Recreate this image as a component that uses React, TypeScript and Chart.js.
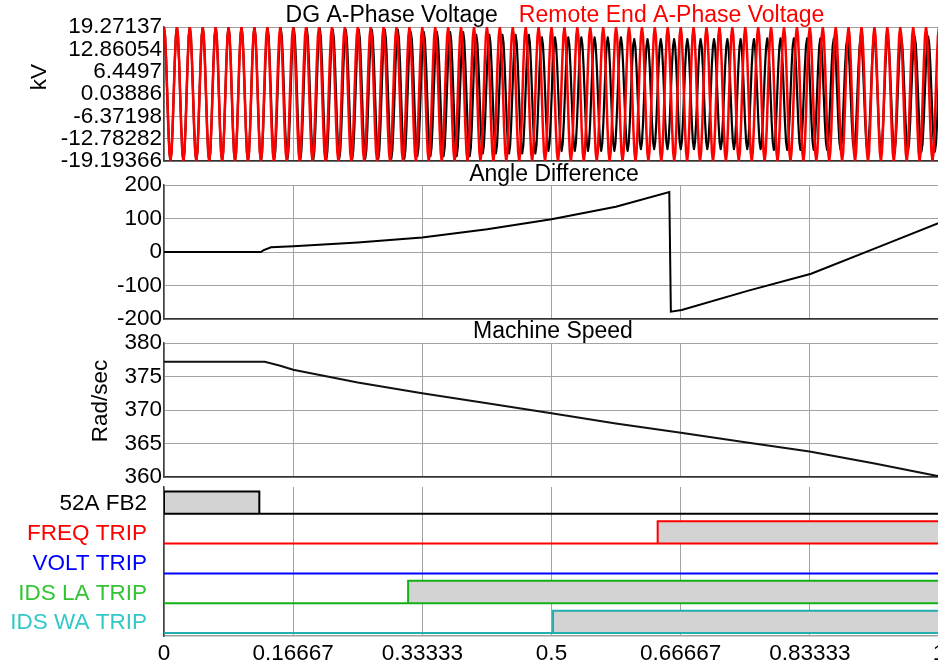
import React, { useEffect, useRef } from 'react';
import { Chart, registerables } from 'chart.js';
Chart.register(...registerables);

const FONT = "'Liberation Sans', Arial, Helvetica, sans-serif";
const W = 960;
const H = 667;
const PLOT_LEFT = 164;
const PLOT_RIGHT = 939;
const TICK_SIZE = 22.5;
const TITLE_SIZE = 23;

// ---------- shared x axis ----------
const xTickValues = [0, 1 / 6, 2 / 6, 0.5, 4 / 6, 5 / 6, 1];
const xTickLabels = ['0', '0.16667', '0.33333', '0.5', '0.66667', '0.83333', '1'];

// ---------- panel 1: voltages ----------
const voltTickValues = [19.27137, 12.86054, 6.4497, 0.03886, -6.37198, -12.78282, -19.19366];
const voltTickLabels = ['19.27137', '12.86054', '6.4497', '0.03886', '-6.37198', '-12.78282', '-19.19366'];
// one normalised cycle, sampled from peak to peak
const cycleShape = [1, 0.866, 0.5, 0, -0.5, -0.866, -1, -0.866, -0.5, 0, 0.5, 0.866];
const remotePeakTimes = [0, 0.0167, 0.0333, 0.05, 0.0667, 0.0833, 0.1, 0.1167, 0.1333, 0.15, 0.1667, 0.1833, 0.2, 0.2167, 0.2333, 0.25, 0.2667, 0.2833, 0.3, 0.3167, 0.3333, 0.35, 0.3667, 0.3833, 0.4, 0.4167, 0.4333, 0.45, 0.4667, 0.4833, 0.5, 0.5167, 0.5333, 0.55, 0.5667, 0.5833, 0.6, 0.6167, 0.6333, 0.65, 0.6667, 0.6833, 0.7, 0.7167, 0.7333, 0.75, 0.7667, 0.7833, 0.8, 0.8167, 0.8333, 0.85, 0.8667, 0.8833, 0.9, 0.9167, 0.9333, 0.95, 0.9667, 0.9833, 1.0];
const remotePeakKv = [19.2];
const dgPeakTimes = [0, 0.0167, 0.0333, 0.05, 0.0667, 0.0833, 0.1, 0.1167, 0.1337, 0.1507, 0.1675, 0.1842, 0.201, 0.2178, 0.2345, 0.2513, 0.2681, 0.2849, 0.3017, 0.3185, 0.3353, 0.3522, 0.3692, 0.386, 0.4029, 0.4198, 0.4367, 0.4537, 0.4707, 0.4876, 0.5045, 0.5216, 0.5385, 0.5556, 0.5726, 0.5896, 0.6068, 0.6239, 0.641, 0.6582, 0.6753, 0.6924, 0.7097, 0.7269, 0.744, 0.7612, 0.7784, 0.7955, 0.8127, 0.8298, 0.8469, 0.8643, 0.8817, 0.899, 0.9164, 0.9338, 0.9511, 0.9686, 0.986, 1.0033];
const dgPeakKv = [19.2, 19.2, 19.2, 19.2, 19.2, 19.2, 19.2, 19.2, 18.9, 18.9, 18.9, 18.9, 18.9, 18.5, 18.5, 18.5, 18.5, 18.5, 18.5, 17.8, 17.8, 17.8, 17.8, 17.8, 17.0, 17.0, 17.0, 17.0, 17.0, 16.3, 16.3, 16.3, 16.3, 16.3, 16.3, 16.3, 15.8, 15.8, 15.8, 15.8, 15.8, 15.8, 15.8, 15.8, 15.8, 15.8, 16.0, 16.0, 16.0, 16.0, 16.0, 16.0, 16.0, 16.5, 16.5, 16.5, 16.5, 16.5, 16.5];

// ---------- panel 2: angle difference ----------
const angleTimes = [0, 0.125, 0.128, 0.138, 0.167, 0.25, 0.333, 0.417, 0.5, 0.583, 0.652, 0.654, 0.668, 0.753, 0.835, 0.92, 1.0];
const angleDeg = [0, 0, 5, 14, 17, 28, 43, 68, 98, 135, 179, -178, -173, -116, -65, 13, 87];
const angleTicks = [-200, -100, 0, 100, 200];

// ---------- panel 3: machine speed ----------
const speedTimes = [0, 0.13, 0.15, 0.1667, 0.25, 0.333, 0.417, 0.5, 0.583, 0.667, 0.75, 0.833, 0.917, 1.0];
const speedRad = [377.2, 377.2, 376.6, 376.0, 374.1, 372.5, 371.0, 369.5, 368.0, 366.6, 365.2, 363.8, 362.0, 360.1];
const speedTicks = [360, 365, 370, 375, 380];

// ---------- panel 4: digital channels ----------
const channelNames = ['52A FB2', 'FREQ TRIP', 'VOLT TRIP', 'IDS LA TRIP', 'IDS WA TRIP'];
const channelOnStart = [0, 0.637, null, 0.315, 0.502];
const channelOnEnd = [0.123, 1, null, 1, 1];
const channelTextColors = ['#000000', '#ff0000', '#0000ff', '#33c433', '#33c8c8'];
const channelLineColors = ['#000000', '#ff0000', '#0000ff', '#12b012', '#22aeae'];

// layout constants for digital lanes (in lane units)
const LANE_BASE = 0.1;
const LANE_HIGH = 0.75;
const LANE_LABEL = 0.43;

function wavePoints(peaks: number[], amps: number[]) {
  const pts: { x: number; y: number }[] = [];
  for (let k = 0; k < peaks.length - 1; k++) {
    const a = peaks[k];
    const b = peaks[k + 1];
    const amp = amps[Math.min(k, amps.length - 1)];
    cycleShape.forEach((s, j) => {
      pts.push({ x: a + ((b - a) * j) / cycleShape.length, y: amp * s });
    });
  }
  const lastAmp = amps[Math.min(peaks.length - 2, amps.length - 1)];
  pts.push({ x: peaks[peaks.length - 1], y: lastAmp });
  return pts;
}

function zipXY(xs: number[], ys: number[]) {
  return xs.map((x, i) => ({ x, y: ys[i] }));
}

type TextItem = {
  segments?: { text: string; color: string }[];
  text?: string;
  color?: string;
  x: number;
  y: number;
  gap?: number;
  rotate?: boolean;
  size?: number;
};

function textPlugin(items: TextItem[]) {
  return {
    id: 'panelTexts',
    afterDraw(chart: any) {
      const ctx = chart.ctx as CanvasRenderingContext2D;
      ctx.save();
      for (const it of items) {
        ctx.font = `${it.size ?? TITLE_SIZE}px ${FONT}`;
        ctx.textBaseline = 'alphabetic';
        if (it.segments) {
          const gap = it.gap ?? 0;
          const widths = it.segments.map((s) => ctx.measureText(s.text).width);
          const total = widths.reduce((a, b) => a + b, 0) + gap * (it.segments.length - 1);
          let x = it.x - total / 2;
          ctx.textAlign = 'left';
          it.segments.forEach((s, i) => {
            ctx.fillStyle = s.color;
            ctx.fillText(s.text, x, it.y);
            x += widths[i] + gap;
          });
        } else if (it.rotate) {
          ctx.save();
          ctx.translate(it.x, it.y);
          ctx.rotate(-Math.PI / 2);
          ctx.textAlign = 'center';
          ctx.textBaseline = 'middle';
          ctx.fillStyle = it.color || '#000';
          ctx.fillText(it.text || '', 0, 0);
          ctx.restore();
        } else {
          ctx.textAlign = 'center';
          ctx.fillStyle = it.color || '#000';
          ctx.fillText(it.text || '', it.x, it.y);
        }
      }
      ctx.restore();
    },
  };
}

function xScale(showLabels: boolean, borderColor: string) {
  return {
    type: 'linear',
    min: 0,
    max: 1,
    afterBuildTicks: (s: any) => {
      s.ticks = xTickValues.map((v) => ({ value: v }));
    },
    afterFit: (s: any) => {
      s.height = showLabels ? 31 : 0;
    },
    ticks: {
      display: showLabels,
      autoSkip: false,
      maxRotation: 0,
      minRotation: 0,
      padding: 4,
      color: '#000',
      font: { size: TICK_SIZE, family: FONT },
      callback: (_v: any, i: number) => xTickLabels[i],
    },
    grid: { color: '#a3a3a3', lineWidth: 1, drawTicks: false },
    border: { display: true, color: borderColor, width: 1.5 },
  };
}

function yScale(opts: {
  min: number;
  max: number;
  ticks: number[];
  labels: string[];
  padding?: number;
  grid?: boolean;
  colors?: string[];
}) {
  return {
    type: 'linear',
    min: opts.min,
    max: opts.max,
    afterBuildTicks: (s: any) => {
      s.ticks = opts.ticks.map((v) => ({ value: v }));
    },
    afterFit: (s: any) => {
      s.width = PLOT_LEFT;
    },
    ticks: {
      autoSkip: false,
      padding: opts.padding ?? 2,
      color: opts.colors ? (c: any) => opts.colors![c.index] : '#000',
      font: { size: TICK_SIZE, family: FONT },
      callback: (_v: any, i: number) => opts.labels[i],
    },
    grid: { display: opts.grid !== false, color: '#a3a3a3', lineWidth: 1, drawTicks: false },
    border: { display: true, color: '#444', width: 1.5 },
  };
}

function baseOptions(top: number, bottom: number, scales: any) {
  return {
    responsive: false,
    animation: false,
    devicePixelRatio: 1,
    events: [],
    layout: { padding: { top, bottom: H - bottom, left: 0, right: W - PLOT_RIGHT } },
    plugins: { legend: { display: false }, tooltip: { enabled: false }, title: { display: false } },
    elements: { point: { radius: 0 }, line: { tension: 0 } },
    scales,
  };
}

function voltageConfig() {
  return {
    type: 'line',
    data: {
      datasets: [
        {
          label: 'Remote End A-Phase Voltage',
          data: wavePoints(remotePeakTimes, remotePeakKv),
          borderColor: '#ff0000',
          borderWidth: 2.5,
          borderJoinStyle: 'round',
          fill: false,
        },
        {
          label: 'DG A-Phase Voltage',
          data: wavePoints(dgPeakTimes, dgPeakKv),
          borderColor: '#000000',
          borderWidth: 2.2,
          borderJoinStyle: 'round',
          fill: false,
        },
      ],
    },
    options: baseOptions(27, 161, {
      x: xScale(false, '#333'),
      y: yScale({ min: -19.19366, max: 19.27137, ticks: voltTickValues, labels: voltTickLabels }),
    }),
    plugins: [
      textPlugin([
        {
          segments: [
            { text: 'DG A-Phase Voltage', color: '#000000' },
            { text: 'Remote End A-Phase Voltage', color: '#ff0000' },
          ],
          gap: 21,
          x: 555,
          y: 22,
        },
        { text: 'kV', x: 40, y: 77, rotate: true, size: TICK_SIZE },
      ]),
    ],
  };
}

function angleConfig() {
  return {
    type: 'line',
    data: {
      datasets: [
        {
          label: 'Angle Difference',
          data: zipXY(angleTimes, angleDeg),
          borderColor: '#000000',
          borderWidth: 2,
          fill: false,
        },
      ],
    },
    options: baseOptions(185, 319, {
      x: xScale(false, '#333'),
      y: yScale({ min: -200, max: 200, ticks: angleTicks, labels: angleTicks.map(String) }),
    }),
    plugins: [textPlugin([{ text: 'Angle Difference', x: 554, y: 181 }])],
  };
}

function speedConfig() {
  return {
    type: 'line',
    data: {
      datasets: [
        {
          label: 'Machine Speed',
          data: zipXY(speedTimes, speedRad),
          borderColor: '#111111',
          borderWidth: 2,
          fill: false,
        },
      ],
    },
    options: baseOptions(343, 477, {
      x: xScale(false, '#333'),
      y: yScale({ min: 360, max: 380, ticks: speedTicks, labels: speedTicks.map(String) }),
    }),
    plugins: [
      textPlugin([
        { text: 'Machine Speed', x: 553, y: 338 },
        { text: 'Rad/sec', x: 101, y: 401, rotate: true, size: TICK_SIZE },
      ]),
    ],
  };
}

function digitalConfig() {
  const n = channelNames.length;
  const baselines: any[] = [];
  const boxes: any[] = [];
  channelNames.forEach((name, i) => {
    const base = n - 1 - i + LANE_BASE;
    const high = base + LANE_HIGH;
    baselines.push({
      label: name,
      data: [
        { x: 0, y: base },
        { x: 1, y: base },
      ],
      borderColor: channelLineColors[i],
      borderWidth: 2,
      fill: false,
    });
    const on = channelOnStart[i];
    const off = channelOnEnd[i];
    if (on !== null && off !== null) {
      boxes.push({
        label: name + ' on',
        data: [
          { x: on, y: base },
          { x: on, y: high },
          { x: off, y: high },
          { x: off, y: base },
        ],
        borderColor: channelLineColors[i],
        borderWidth: 2,
        backgroundColor: '#d3d3d3',
        fill: { value: base },
      });
    }
  });
  const labelPos = channelNames.map((_, i) => n - 1 - i + LANE_LABEL);
  return {
    type: 'line',
    data: { datasets: [...baselines, ...boxes] },
    options: baseOptions(487, 667, {
      x: xScale(true, '#a0a0a0'),
      y: yScale({
        min: 0,
        max: n,
        ticks: labelPos,
        labels: channelNames,
        padding: 17,
        grid: false,
        colors: channelTextColors,
      }),
    }),
  };
}

function Panel({ make }: { make: () => any }) {
  const ref = useRef<HTMLCanvasElement | null>(null);
  useEffect(() => {
    if (!ref.current) return;
    const chart = new Chart(ref.current, make());
    return () => chart.destroy();
  }, [make]);
  return (
    <canvas
      ref={ref}
      width={W}
      height={H}
      style={{ position: 'absolute', left: 0, top: 0, width: W, height: H }}
    />
  );
}

export default function App() {
  return (
    <div
      style={{
        position: 'fixed',
        left: 0,
        top: 0,
        width: 938,
        height: 667,
        overflow: 'hidden',
        background: '#ffffff',
      }}
    >
      <Panel make={voltageConfig} />
      <Panel make={angleConfig} />
      <Panel make={speedConfig} />
      <Panel make={digitalConfig} />
    </div>
  );
}
